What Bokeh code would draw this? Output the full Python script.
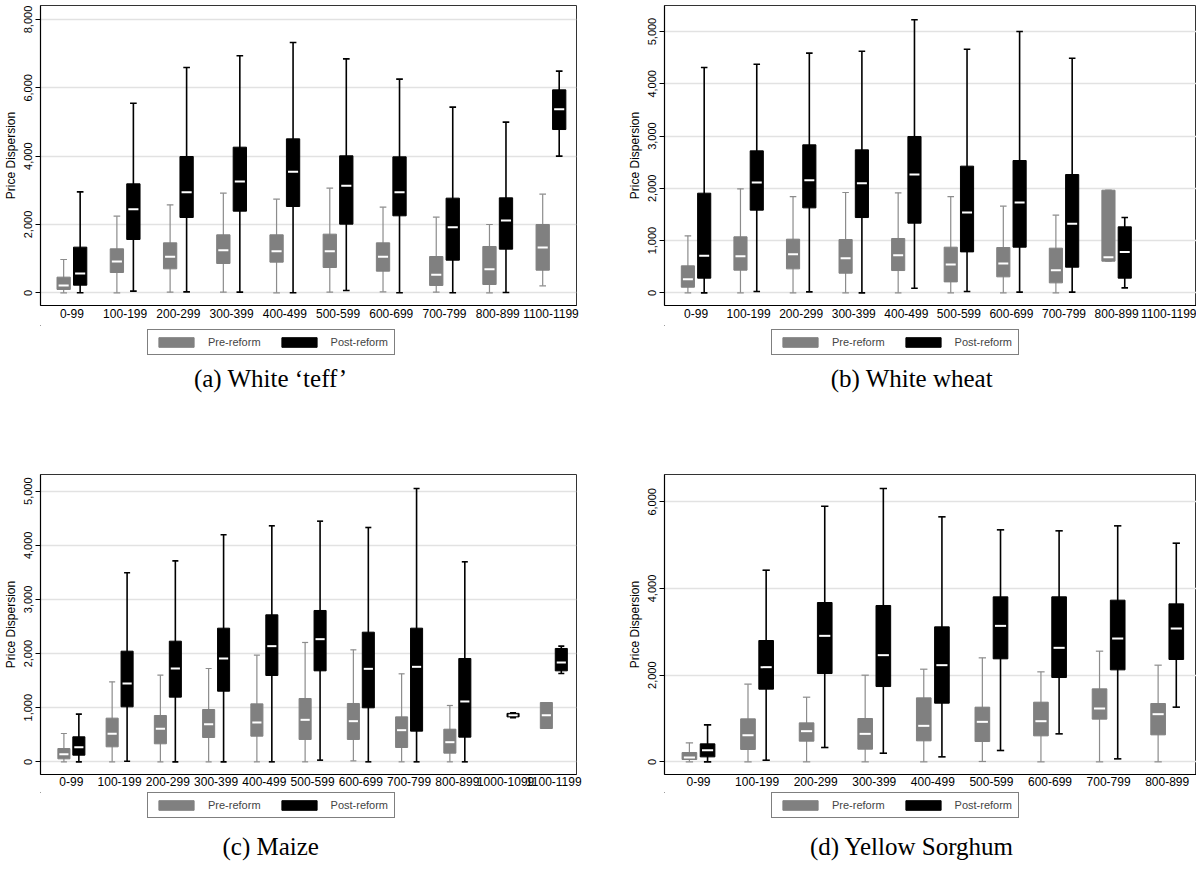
import math
from bokeh.plotting import figure
from bokeh.models import (ColumnDataSource, Legend, LegendItem, Label, FixedTicker,
                          NumeralTickFormatter, Range1d)
from bokeh.layouts import gridplot
from bokeh.embed import file_html
from bokeh.resources import INLINE

NaN = float("nan")

# ---------------- Panel (a) White 'teff' ----------------
teff_categories = ["0-99", "100-199", "200-299", "300-399", "400-499", "500-599",
                   "600-699", "700-799", "800-899", "1100-1199"]
teff_pre_low = [0, 0, 20, 20, 0, 20, 29, 20, 0, 205]
teff_pre_q1 = [98, 595, 702, 859, 898, 741, 634, 215, 244, 663]
teff_pre_med = [215, 917, 1054, 1249, 1220, 1220, 1054, 527, 693, 1327]
teff_pre_q3 = [459, 1288, 1463, 1698, 1698, 1717, 1463, 1063, 1356, 2000]
teff_pre_high = [976, 2244, 2576, 2917, 2741, 3063, 2507, 2215, 2000, 2888]
teff_post_low = [0, 49, 29, 20, 0, 68, 0, 0, 10, 4000]
teff_post_q1 = [224, 1561, 2205, 2390, 2527, 2010, 2254, 956, 1278, 4780]
teff_post_med = [566, 2449, 2946, 3258, 3541, 3132, 2946, 1922, 2117, 5376]
teff_post_q3 = [1337, 3190, 3990, 4263, 4507, 4010, 3980, 2771, 2780, 5941]
teff_post_high = [2956, 5551, 6595, 6937, 7327, 6849, 6254, 5434, 4995, 6488]
teff_yticks = [0, 2000, 4000, 6000, 8000]

# ---------------- Panel (b) White wheat ----------------
wheat_categories = ["0-99", "100-199", "200-299", "300-399", "400-499", "500-599",
                    "600-699", "700-799", "800-899", "1100-1199"]
wheat_pre_low = [0, 0, 0, 0, 0, 0, 0, 0, 606, NaN]
wheat_pre_q1 = [108, 434, 459, 376, 427, 210, 306, 191, 606, NaN]
wheat_pre_med = [261, 702, 740, 663, 721, 542, 561, 434, 682, NaN]
wheat_pre_q3 = [517, 1072, 1027, 1020, 1040, 874, 867, 855, 1964, NaN]
wheat_pre_high = [1091, 1990, 1843, 1920, 1913, 1843, 1658, 1486, 1964, NaN]
wheat_post_low = [0, 26, 19, 0, 89, 26, 13, 13, 96, NaN]
wheat_post_q1 = [281, 1582, 1626, 1441, 1333, 784, 874, 491, 281, NaN]
wheat_post_med = [708, 2111, 2156, 2098, 2264, 1537, 1728, 1320, 784, NaN]
wheat_post_q3 = [1907, 2717, 2832, 2736, 2991, 2424, 2532, 2264, 1263, NaN]
wheat_post_high = [4311, 4375, 4586, 4624, 5224, 4662, 5000, 4490, 1441, NaN]
wheat_yticks = [0, 1000, 2000, 3000, 4000, 5000]

# ---------------- Panel (c) Maize ----------------
maize_categories = ["0-99", "100-199", "200-299", "300-399", "400-499", "500-599",
                    "600-699", "700-799", "800-899", "1000-1099", "1100-1199"]
maize_pre_low = [0, 0, 0, 0, 0, 0, 18, 0, 0, NaN, 616]
maize_pre_q1 = [55, 277, 333, 450, 474, 413, 413, 265, 160, NaN, 616]
maize_pre_med = [142, 517, 610, 696, 727, 776, 751, 585, 363, NaN, 862]
maize_pre_q3 = [246, 807, 856, 967, 1071, 1170, 1078, 831, 603, NaN, 1096]
maize_pre_high = [523, 1478, 1601, 1724, 1971, 2205, 2069, 1626, 1041, NaN, 1096]
maize_post_low = [0, 12, 0, 0, 0, 31, 0, 0, 0, 815, 1632]
maize_post_q1 = [123, 1016, 1195, 1305, 1595, 1681, 998, 567, 456, 830, 1681]
maize_post_med = [271, 1447, 1724, 1909, 2137, 2266, 1718, 1755, 1115, 862, 1835]
maize_post_q3 = [462, 2044, 2229, 2469, 2716, 2796, 2395, 2469, 1909, 895, 2094]
maize_post_high = [881, 3492, 3713, 4194, 4360, 4446, 4329, 5050, 3695, 905, 2137]
maize_yticks = [0, 1000, 2000, 3000, 4000, 5000]

# ---------------- Panel (d) Yellow Sorghum ----------------
sorghum_categories = ["0-99", "100-199", "200-299", "300-399", "400-499", "500-599",
                      "600-699", "700-799", "800-899"]
sorghum_pre_low = [0, 0, 0, 0, 0, 8, 0, 0, 0]
sorghum_pre_q1 = [54, 285, 477, 292, 485, 469, 600, 985, 623]
sorghum_pre_med = [100, 615, 708, 646, 831, 923, 938, 1231, 1100]
sorghum_pre_q3 = [215, 992, 900, 1000, 1477, 1262, 1377, 1685, 1346]
sorghum_pre_high = [438, 1792, 1492, 2000, 2138, 2400, 2077, 2554, 2231]
sorghum_post_low = [0, 38, 331, 200, 115, 262, 646, 69, 1262]
sorghum_post_q1 = [115, 1677, 2038, 1738, 1354, 2377, 1946, 2123, 2362]
sorghum_post_med = [269, 2185, 2908, 2462, 2231, 3138, 2631, 2846, 3077]
sorghum_post_q3 = [415, 2800, 3677, 3608, 3115, 3808, 3808, 3731, 3646]
sorghum_post_high = [854, 4423, 5900, 6308, 5654, 5354, 5331, 5446, 5046]
sorghum_yticks = [0, 2000, 4000, 6000]

legend_labels = ["Pre-reform", "Post-reform"]
captions = ["(a) White \u2018teff\u2019", "(b) White wheat", "(c) Maize", "(d) Yellow Sorghum"]

PRE_FILL = "#808080"
PRE_WHISKER = "#8c8c8c"
POST_FILL = "#000000"
SANS = "Liberation Sans"
SERIF = "Liberation Serif"

BOX_W = 0.25
OFFSET = 0.155


def box_source(idx_shift, low, q1, med, q3, high):
    xs, lo, a, m, b, hi = [], [], [], [], [], []
    for i in range(len(q1)):
        if math.isnan(q1[i]):
            continue
        xs.append(i + idx_shift)
        lo.append(low[i]); a.append(q1[i]); m.append(med[i]); b.append(q3[i]); hi.append(high[i])
    cap = BOX_W / 4.0
    mw = BOX_W * 0.38
    return ColumnDataSource(dict(
        x=xs, low=lo, q1=a, med=m, q3=b, high=hi,
        cl=[x - cap for x in xs], cr=[x + cap for x in xs],
        ml=[x - mw for x in xs], mr=[x + mw for x in xs]))


def draw_boxes(p, src, fill, wcolor, wwidth):
    p.segment(x0="x", y0="low", x1="x", y1="high", source=src,
              line_color=wcolor, line_width=wwidth)
    p.segment(x0="cl", y0="low", x1="cr", y1="low", source=src,
              line_color=wcolor, line_width=wwidth)
    p.segment(x0="cl", y0="high", x1="cr", y1="high", source=src,
              line_color=wcolor, line_width=wwidth)
    p.vbar(x="x", width=BOX_W, bottom="q1", top="q3", source=src,
           fill_color=fill, line_color=fill, line_width=1)
    p.segment(x0="ml", y0="med", x1="mr", y1="med", source=src,
              line_color="white", line_width=2)


def make_panel(cats, pre, post, yticks, x_rng, y_rng, width, height,
               border_left, border_right, border_top, border_bottom, xstandoff):
    p = figure(width=width, height=height, output_backend="svg",
               toolbar_location=None,
               x_range=Range1d(*x_rng), y_range=Range1d(*y_rng),
               min_border_left=border_left, min_border_right=border_right,
               min_border_top=border_top, min_border_bottom=border_bottom)
    p.background_fill_color = "white"
    p.border_fill_color = "white"
    p.outline_line_color = "#333333"
    p.outline_line_width = 1

    draw_boxes(p, box_source(-OFFSET, *pre), PRE_FILL, PRE_WHISKER, 1.2)
    draw_boxes(p, box_source(OFFSET, *post), POST_FILL, "black", 1.6)

    p.xaxis.ticker = FixedTicker(ticks=list(range(len(cats))))
    p.xaxis.major_label_overrides = {i: c for i, c in enumerate(cats)}
    p.xaxis.major_tick_out = 0
    p.xaxis.major_tick_in = 0
    p.xaxis.minor_tick_out = 0
    p.xaxis.minor_tick_in = 0
    p.xaxis.axis_line_color = "black"
    p.xaxis.axis_line_width = 1.2
    p.xaxis.major_label_text_font = SANS
    p.xaxis.major_label_text_font_size = "12px"
    p.xaxis.major_label_text_color = "black"
    p.xaxis.major_label_standoff = xstandoff

    p.yaxis.ticker = FixedTicker(ticks=yticks)
    p.yaxis.formatter = NumeralTickFormatter(format="0,0")
    p.yaxis.major_label_orientation = "vertical"
    p.yaxis.major_tick_out = 5
    p.yaxis.major_tick_in = 0
    p.yaxis.minor_tick_out = 0
    p.yaxis.minor_tick_in = 0
    p.yaxis.axis_line_color = "black"
    p.yaxis.axis_line_width = 1.2
    p.yaxis.major_tick_line_color = "black"
    p.yaxis.major_label_text_font = SANS
    p.yaxis.major_label_text_font_size = "11px"
    p.yaxis.major_label_text_color = "black"
    p.yaxis.major_label_standoff = 3
    p.yaxis.axis_label = "Price Dispersion"
    p.yaxis.axis_label_text_font = SANS
    p.yaxis.axis_label_text_font_size = "12px"
    p.yaxis.axis_label_text_font_style = "normal"
    p.yaxis.axis_label_text_color = "black"
    p.yaxis.axis_label_standoff = 4

    p.xgrid.visible = False
    p.ygrid.grid_line_color = "#e2e2e2"
    p.ygrid.grid_line_width = 1.5
    return p


def make_footer(width, height, caption, legend_top, caption_y, legend_x, caption_x):
    f = figure(width=width, height=height, output_backend="svg",
               toolbar_location=None, x_axis_type=None, y_axis_type=None,
               x_range=Range1d(0, width), y_range=Range1d(height, 0),
               min_border_left=0, min_border_right=0, min_border_top=0,
               min_border_bottom=0)
    f.outline_line_color = None
    f.xgrid.visible = False
    f.ygrid.visible = False
    # legend keys only (their data lie outside the visible range)
    r_pre = f.vbar(x=[-1000], top=[-1000], bottom=[-1001], width=1,
                   fill_color=PRE_FILL, line_color=PRE_FILL)
    r_post = f.vbar(x=[-1000], top=[-1000], bottom=[-1001], width=1,
                    fill_color=POST_FILL, line_color=POST_FILL)
    legend_h = 26
    legend = Legend(items=[LegendItem(label=legend_labels[0], renderers=[r_pre]),
                           LegendItem(label=legend_labels[1], renderers=[r_post])],
                    orientation="horizontal",
                    location=(legend_x, height - legend_top - legend_h),
                    border_line_color="black", border_line_width=1,
                    background_fill_color="white", background_fill_alpha=1.0,
                    padding=6, spacing=16, glyph_width=44, glyph_height=12,
                    label_standoff=10, label_text_font=SANS,
                    label_text_font_size="11px", label_height=12, margin=0)
    f.add_layout(legend, "center")
    f.add_layout(Label(x=caption_x, y=caption_y, text=caption, text_font=SERIF,
                       text_font_size="25px", text_align="center",
                       text_baseline="middle", text_color="black"))
    return f


pa = make_panel(teff_categories,
                (teff_pre_low, teff_pre_q1, teff_pre_med, teff_pre_q3, teff_pre_high),
                (teff_post_low, teff_post_q1, teff_post_med, teff_post_q3, teff_post_high),
                teff_yticks, (-0.59, 9.48), (-371, 8410), 624, 325, 38, 48, 5, 20, 3)
pb = make_panel(wheat_categories,
                (wheat_pre_low, wheat_pre_q1, wheat_pre_med, wheat_pre_q3, wheat_pre_high),
                (wheat_post_low, wheat_post_q1, wheat_post_med, wheat_post_q3, wheat_post_high),
                wheat_yticks, (-0.60, 9.52), (-242, 5498), 572, 325, 40, 0, 5, 20, 3)
pc = make_panel(maize_categories,
                (maize_pre_low, maize_pre_q1, maize_pre_med, maize_pre_q3, maize_pre_high),
                (maize_post_low, maize_post_q1, maize_post_med, maize_post_q3, maize_post_high),
                maize_yticks, (-0.64, 10.47), (-234, 5308), 624, 330, 38, 48, 12, 18, 2)
pd = make_panel(sorghum_categories,
                (sorghum_pre_low, sorghum_pre_q1, sorghum_pre_med, sorghum_pre_q3, sorghum_pre_high),
                (sorghum_post_low, sorghum_post_q1, sorghum_post_med, sorghum_post_q3, sorghum_post_high),
                sorghum_yticks, (-0.58, 8.5), (-292, 6631), 572, 330, 40, 0, 12, 18, 2)

fa = make_footer(624, 137, captions[0], 4, 53, 107, 268)
fb = make_footer(572, 137, captions[1], 4, 53, 107, 266)
fc = make_footer(624, 82, captions[2], 0, 54, 107, 268)
fd = make_footer(572, 82, captions[3], 0, 54, 107, 266)

grid = gridplot([[pa, pb], [fa, fb], [pc, pd], [fc, fd]], toolbar_location=None)
open("out.html", "w").write(file_html(grid, INLINE, title="Price dispersion"))
